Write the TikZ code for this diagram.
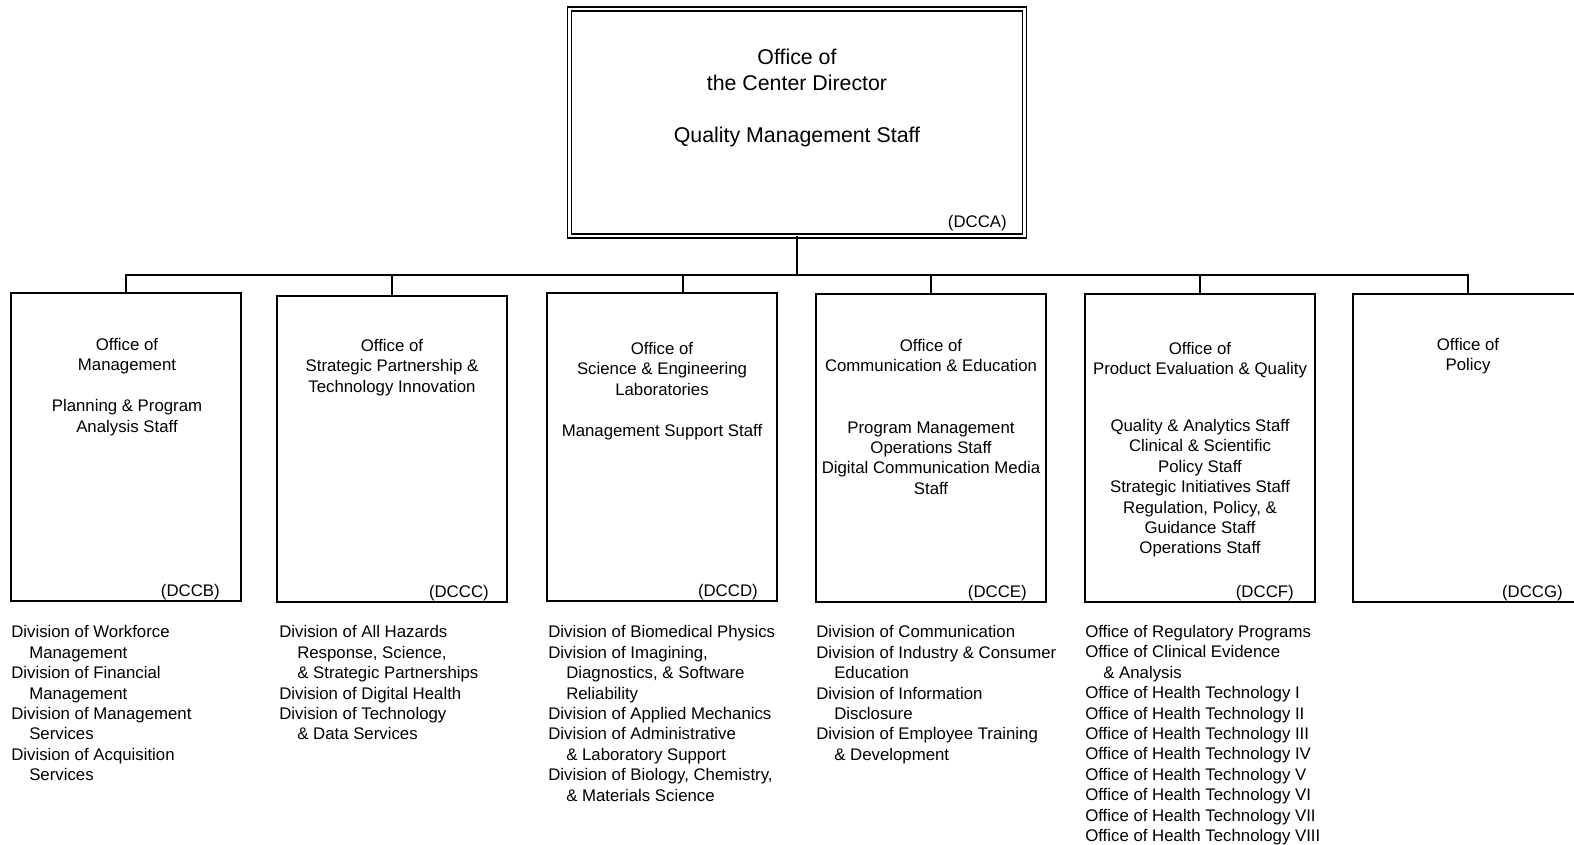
\documentclass[tikz,border=0pt]{standalone}
\usepackage{fontspec}
\setmainfont{Liberation Sans}
\newcommand\subln{\hspace*{13.5pt}}
\begin{document}
\begin{tikzpicture}[x=0.75pt,y=-0.75pt,
  unitbox/.style={draw, line width=1.5pt, inner sep=0pt, outer sep=0pt,
    minimum width=172.5pt, minimum height=231pt},
  topbox/.style={draw, line width=1.1pt, double, double distance=2.2pt,
    inner sep=0pt, outer sep=0pt, minimum width=341.25pt, minimum height=170.25pt},
  wire/.style={line width=1.5pt},
  body/.style={font=\fontsize{12.6}{15.3}\selectfont, align=center, inner sep=0pt, anchor=north},
  head/.style={font=\fontsize{16}{19.35}\selectfont, align=center, inner sep=0pt, anchor=north},
  code/.style={font=\fontsize{12.6}{15.3}\selectfont, inner sep=0pt, anchor=base east},
  list/.style={font=\fontsize{12.6}{15.3}\selectfont, align=left, inner sep=0pt, anchor=north west},
]
\useasboundingbox (0,0) rectangle (1574,845);
\clip (0,0) rectangle (1574,845);

% Center director
\node[topbox] (A) at (797,122.5) {};
\node[head] (At) at (797,49) {Office of\\the Center Director\\[19.35pt]Quality Management Staff};
\node[code] (Ac) at (1007,228) {(DCCA)};

% Offices
\node[unitbox] (B) at (126,447) {};
\node[unitbox, minimum height=229.5pt] (C) at (392,448.5) {};
\node[unitbox] (D) at (662,447) {};
\node[unitbox] (E) at (931,448) {};
\node[unitbox] (F) at (1200,448) {};
\node[unitbox] (G) at (1468,448) {};

% Reporting lines
\coordinate (bus) at (797,275);
\draw[wire] (A.south) -- (A.south |- bus);
\draw[wire] (B.north) -- (B.north |- bus) -- (G.north |- bus) -- (G.north);
\draw[wire] (C.north) -- (C.north |- bus);
\draw[wire] ([xshift=15.4pt]D.north) -- ([xshift=15.4pt]D.north |- bus);
\draw[wire] (E.north) -- (E.north |- bus);
\draw[wire] (F.north) -- (F.north |- bus);

% Office titles and staffs
\node[body] (Bt) at (127,338) {Office of\\Management\\[15.3pt]Planning \& Program\\Analysis Staff};
\node[body] (Ct) at (392,339) {Office of\\Strategic Partnership \&\\Technology Innovation};
\node[body] (Dt) at (662,342) {Office of\\Science \& Engineering\\Laboratories\\[15.3pt]Management Support Staff};
\node[body] (Et) at (931,339) {Office of\\Communication \& Education\\[30.6pt]Program Management\\Operations Staff\\Digital Communication Media\\Staff};
\node[body] (Ft) at (1200,342) {Office of\\Product Evaluation \& Quality};
\node[body] (Fs) at (1200,419) {Quality \& Analytics Staff\\Clinical \& Scientific\\Policy Staff\\Strategic Initiatives Staff\\Regulation, Policy, \&\\Guidance Staff\\Operations Staff};
\node[body] (Gt) at (1468,338) {Office of\\Policy};

% Organization codes
\node[code] (Bc) at (220,596) {(DCCB)};
\node[code] (Cc) at (489,597) {(DCCC)};
\node[code] (Dc) at (758,596) {(DCCD)};
\node[code] (Ec) at (1027,597) {(DCCE)};
\node[code] (Fc) at (1294,597) {(DCCF)};
\node[code] (Gc) at (1563,597) {(DCCG)};

% Subordinate divisions and offices
\node[list] (Bl) at (11,625.5) {Division of Workforce\\\subln Management\\Division of Financial\\\subln Management\\Division of Management\\\subln Services\\Division of Acquisition\\\subln Services};
\node[list] (Cl) at (279,625.5) {Division of All Hazards\\\subln Response, Science,\\\subln \& Strategic Partnerships\\Division of Digital Health\\Division of Technology\\\subln \& Data Services};
\node[list] (Dl) at (548,625.5) {Division of Biomedical Physics\\Division of Imagining,\\\subln Diagnostics, \& Software\\\subln Reliability\\Division of Applied Mechanics\\Division of Administrative\\\subln \& Laboratory Support\\Division of Biology, Chemistry,\\\subln \& Materials Science};
\node[list] (El) at (816,625.5) {Division of Communication\\Division of Industry \& Consumer\\\subln Education\\Division of Information\\\subln Disclosure\\Division of Employee Training\\\subln \& Development};
\node[list] (Fl) at (1085,625) {Office of Regulatory Programs\\Office of Clinical Evidence\\\subln \& Analysis\\Office of Health Technology I\\Office of Health Technology II\\Office of Health Technology III\\Office of Health Technology IV\\Office of Health Technology V\\Office of Health Technology VI\\Office of Health Technology VII\\Office of Health Technology VIII};
\end{tikzpicture}
\end{document}
